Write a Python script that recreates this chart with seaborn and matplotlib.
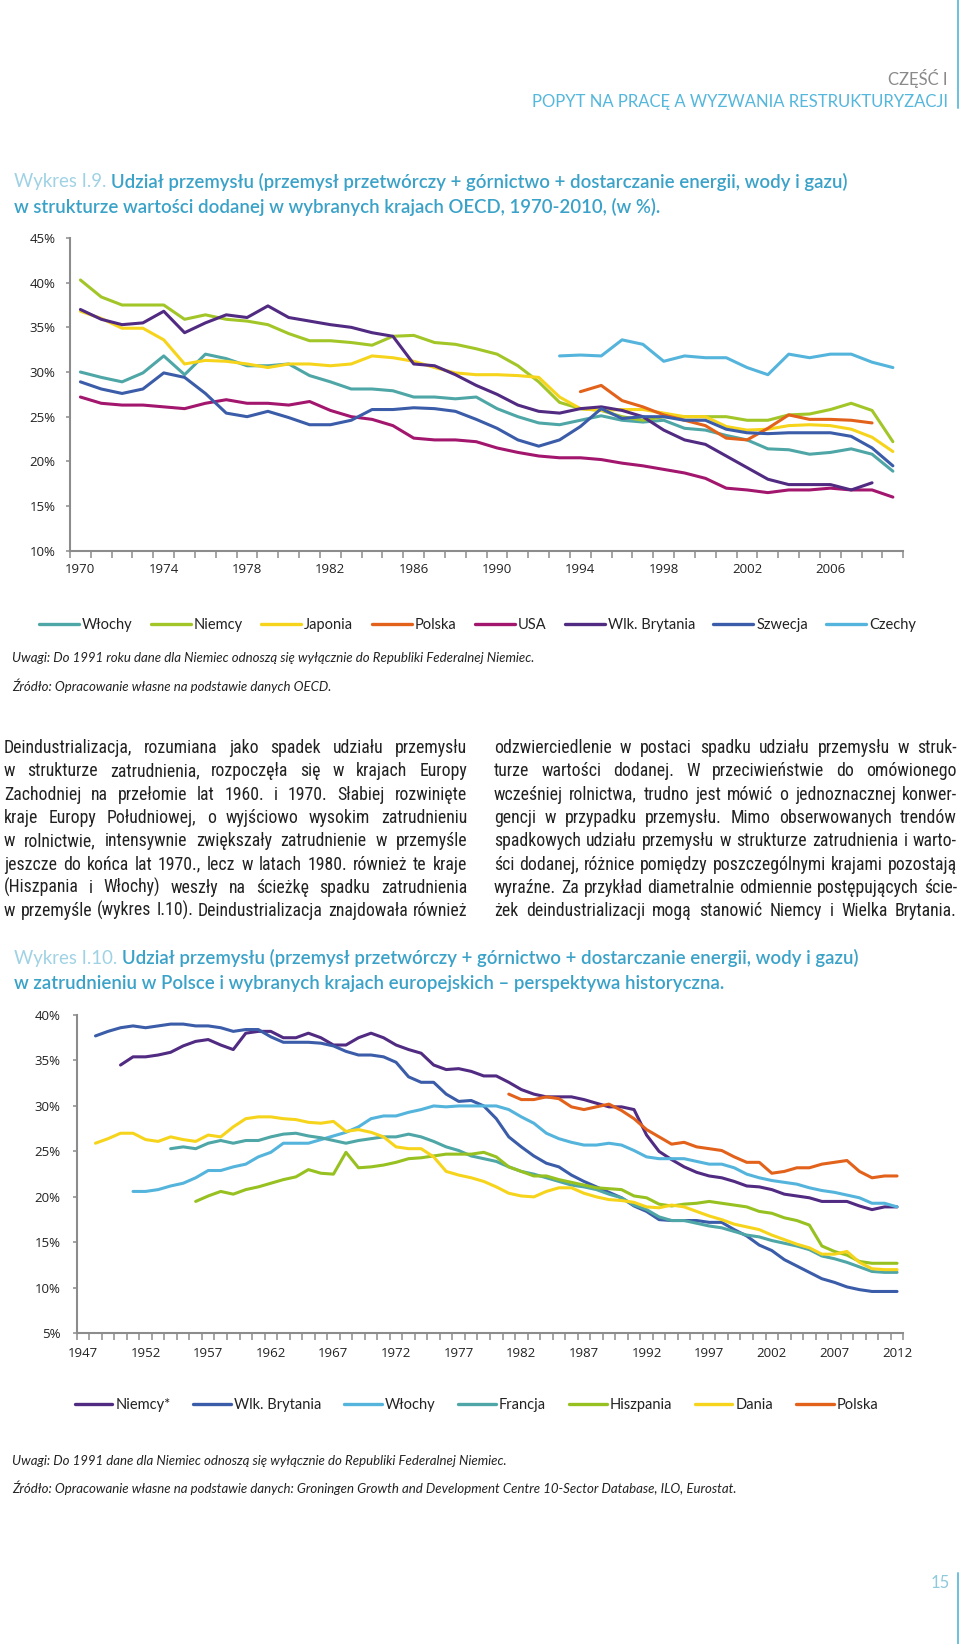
import numpy as np
import pandas as pd
import matplotlib
matplotlib.use("Agg")
import matplotlib.pyplot as plt
import seaborn as sns
from matplotlib import font_manager as fm
from matplotlib.ticker import FixedLocator, FuncFormatter
from matplotlib.lines import Line2D

# ---------------- data: chart I.9 (value added share, %) ----------------
years_vad = list(range(1970, 2010))
countries_vad = ["Włochy", "Niemcy", "Japonia", "Polska", "USA", "Wlk. Brytania", "Szwecja", "Czechy"]

wlochy_vad_start = 1970
wlochy_vad = [30.0, 29.4, 28.9, 29.9, 31.8, 29.7, 32.0, 31.5, 30.7, 30.7,
              30.9, 29.6, 28.9, 28.1, 28.1, 27.9, 27.2, 27.2, 27.0, 27.2,
              25.9, 25.0, 24.3, 24.1, 24.6, 25.1, 24.6, 24.4, 24.6, 23.7,
              23.5, 22.9, 22.4, 21.4, 21.3, 20.8, 21.0, 21.4, 20.8, 18.9]
niemcy_vad_start = 1970
niemcy_vad = [40.3, 38.4, 37.5, 37.5, 37.5, 35.9, 36.4, 35.9, 35.7, 35.3,
              34.3, 33.5, 33.5, 33.3, 33.0, 34.0, 34.1, 33.3, 33.1, 32.6,
              32.0, 30.7, 28.9, 26.6, 25.9, 25.7, 25.0, 24.6, 25.0, 25.0,
              25.0, 25.0, 24.6, 24.6, 25.2, 25.3, 25.8, 26.5, 25.7, 22.2]
japonia_vad_start = 1970
japonia_vad = [36.8, 36.0, 34.9, 34.9, 33.6, 30.9, 31.3, 31.2, 30.9, 30.5,
               30.9, 30.9, 30.7, 30.9, 31.8, 31.6, 31.2, 30.5, 29.9, 29.7,
               29.7, 29.6, 29.4, 27.2, 25.9, 25.7, 25.8, 25.8, 25.4, 25.0,
               25.0, 23.9, 23.5, 23.6, 24.0, 24.1, 24.0, 23.6, 22.7, 21.1]
polska_vad_start = 1994
polska_vad = [27.8, 28.5, 26.8, 26.1, 25.2, 24.6, 24.0, 22.6, 22.4, 23.7,
              25.2, 24.7, 24.7, 24.6, 24.3]
usa_vad_start = 1970
usa_vad = [27.2, 26.5, 26.3, 26.3, 26.1, 25.9, 26.5, 26.9, 26.5, 26.5,
           26.3, 26.7, 25.7, 25.0, 24.7, 24.0, 22.6, 22.4, 22.4, 22.2,
           21.5, 21.0, 20.6, 20.4, 20.4, 20.2, 19.8, 19.5, 19.1, 18.7,
           18.1, 17.0, 16.8, 16.5, 16.8, 16.8, 17.0, 16.8, 16.8, 16.0]
wb_vad_start = 1970
wb_vad = [37.0, 35.9, 35.3, 35.5, 36.8, 34.4, 35.5, 36.4, 36.1, 37.4,
          36.1, 35.7, 35.3, 35.0, 34.4, 34.0, 30.9, 30.7, 29.7, 28.5,
          27.5, 26.3, 25.6, 25.4, 25.9, 26.1, 25.7, 25.0, 23.5, 22.4,
          21.9, 20.6, 19.3, 18.0, 17.4, 17.4, 17.4, 16.8, 17.6]
szwecja_vad_start = 1970
szwecja_vad = [28.9, 28.1, 27.6, 28.1, 29.9, 29.4, 27.6, 25.4, 25.0, 25.6,
               24.9, 24.1, 24.1, 24.6, 25.8, 25.8, 26.0, 25.9, 25.6, 24.7,
               23.7, 22.4, 21.7, 22.4, 23.9, 25.9, 24.8, 25.0, 25.0, 24.6,
               24.6, 23.6, 23.2, 23.1, 23.2, 23.2, 23.2, 22.8, 21.5, 19.5]
czechy_vad_start = 1993
czechy_vad = [31.8, 31.9, 31.8, 33.6, 33.1, 31.2, 31.8, 31.6, 31.6, 30.5,
              29.7, 32.0, 31.6, 32.0, 32.0, 31.1, 30.5]

# ---------------- data: chart I.10 (employment share, %) ----------------
years_emp = list(range(1947, 2013))
countries_emp = ["Niemcy*", "Wlk. Brytania", "Włochy", "Francja", "Hiszpania", "Dania", "Polska"]

niemcy_emp_start = 1950
niemcy_emp = [34.5, 35.4, 35.4, 35.6, 35.9, 36.6, 37.1, 37.3, 36.7, 36.2,
              38.0, 38.2, 38.2, 37.5, 37.5, 38.0, 37.5, 36.7, 36.7, 37.5,
              38.0, 37.5, 36.7, 36.2, 35.8, 34.5, 34.0, 34.1, 33.8, 33.3,
              33.3, 32.6, 31.8, 31.3, 31.0, 31.0, 31.0, 30.7, 30.3, 29.9,
              29.9, 29.6, 26.8, 25.0, 24.1, 23.3, 22.7, 22.3, 22.1, 21.7,
              21.2, 21.1, 20.8, 20.3, 20.1, 19.9, 19.5, 19.5, 19.5, 19.0,
              18.6, 18.9, 18.9]
wb_emp_start = 1948
wb_emp = [37.7, 38.2,
          38.6, 38.8, 38.6, 38.8, 39.0, 39.0, 38.8, 38.8, 38.6, 38.2,
          38.4, 38.4, 37.6, 37.0, 37.0, 37.0, 36.9, 36.6, 36.0, 35.6,
          35.6, 35.4, 34.8, 33.2, 32.6, 32.6, 31.3, 30.5, 30.6, 30.0,
          28.6, 26.6, 25.5, 24.5, 23.7, 23.3, 22.4, 21.7, 21.1, 20.5,
          19.9, 19.0, 18.4, 17.5, 17.4, 17.4, 17.4, 17.2, 17.2, 16.4,
          15.7, 14.7, 14.1, 13.1, 12.4, 11.7, 11.0, 10.6, 10.1, 9.8,
          9.6, 9.6, 9.6]
wlochy_emp_start = 1951
wlochy_emp = [20.6, 20.6, 20.8, 21.2, 21.5, 22.1, 22.9, 22.9, 23.3,
              23.6, 24.4, 24.9, 25.9, 25.9, 25.9, 26.3, 26.7, 27.1, 27.7,
              28.6, 28.9, 28.9, 29.3, 29.6, 30.0, 29.9, 30.0, 30.0, 30.0,
              30.0, 29.6, 28.8, 28.1, 27.0, 26.4, 26.0, 25.7, 25.7, 25.9,
              25.7, 25.1, 24.4, 24.2, 24.2, 24.2, 23.9, 23.6, 23.6, 23.2,
              22.5, 22.1, 21.8, 21.6, 21.4, 21.0, 20.7, 20.5, 20.2, 19.9,
              19.3, 19.3, 18.9]
francja_emp_start = 1954
francja_emp = [25.3, 25.5, 25.3, 25.9, 26.2, 25.9,
               26.2, 26.2, 26.6, 26.9, 27.0, 26.7, 26.5, 26.2, 25.9, 26.2,
               26.4, 26.6, 26.6, 26.9, 26.6, 26.1, 25.5, 25.1, 24.5, 24.2,
               23.9, 23.3, 22.8, 22.5, 22.1, 21.7, 21.3, 21.1, 20.8, 20.3,
               19.9, 19.1, 18.6, 17.8, 17.4, 17.4, 17.1, 16.8, 16.6, 16.2,
               15.8, 15.6, 15.2, 14.9, 14.6, 14.2, 13.5, 13.2, 12.8, 12.3,
               11.8, 11.7, 11.7]
hiszpania_emp_start = 1956
hiszpania_emp = [19.5, 20.1, 20.6, 20.3,
                 20.8, 21.1, 21.5, 21.9, 22.2, 23.0, 22.6, 22.5, 24.9, 23.2,
                 23.3, 23.5, 23.8, 24.2, 24.3, 24.5, 24.7, 24.7, 24.7, 24.9,
                 24.4, 23.3, 22.8, 22.3, 22.3, 21.9, 21.6, 21.3, 21.0, 20.9,
                 20.8, 20.1, 19.9, 19.2, 19.0, 19.2, 19.3, 19.5, 19.3, 19.1,
                 18.9, 18.4, 18.2, 17.7, 17.4, 16.9, 14.6, 14.0, 13.6, 12.9,
                 12.7, 12.7, 12.7]
dania_emp_start = 1948
dania_emp = [25.9, 26.4,
             27.0, 27.0, 26.3, 26.1, 26.6, 26.3, 26.1, 26.8, 26.6, 27.7,
             28.6, 28.8, 28.8, 28.6, 28.5, 28.2, 28.1, 28.3, 27.2, 27.4,
             27.1, 26.6, 25.5, 25.3, 25.3, 24.4, 22.8, 22.4, 22.1, 21.7,
             21.1, 20.4, 20.1, 20.0, 20.6, 21.0, 21.0, 20.4, 20.0, 19.7,
             19.6, 19.4, 18.9, 18.8, 19.1, 18.9, 18.4, 17.9, 17.5, 17.0,
             16.7, 16.4, 15.8, 15.3, 14.8, 14.4, 13.7, 13.7, 14.0, 12.8,
             12.1, 12.0, 12.0]
polska_emp_start = 1981
polska_emp = [31.3, 30.7, 30.7, 31.0, 30.8, 29.9, 29.6, 29.9, 30.2,
              29.5, 28.6, 27.4, 26.6, 25.8, 26.0, 25.5, 25.3, 25.1, 24.4,
              23.8, 23.8, 22.6, 22.8, 23.2, 23.2, 23.6, 23.8, 24.0, 22.8,
              22.1, 22.3, 22.3]

yticks_vad = [10, 15, 20, 25, 30, 35, 40, 45]
yticks_emp = [5, 10, 15, 20, 25, 30, 35, 40]
xlabels_vad = [1970, 1974, 1978, 1982, 1986, 1990, 1994, 1998, 2002, 2006]
xlabels_emp = [1947, 1952, 1957, 1962, 1967, 1972, 1977, 1982, 1987, 1992, 1997, 2002, 2007, 2012]

# ---------------- texts ----------------
header_1 = "CZĘŚĆ I"
header_2 = "POPYT NA PRACĘ A WYZWANIA RESTRUKTURYZACJI"
title1_a = "Wykres I.9."
title1_b = "Udział przemysłu (przemysł przetwórczy + górnictwo + dostarczanie energii, wody i gazu)"
title1_c = "w strukturze wartości dodanej w wybranych krajach OECD, 1970-2010, (w %)."
note1 = "Uwagi: Do 1991 roku dane dla Niemiec odnoszą się wyłącznie do Republiki Federalnej Niemiec."
src1 = "Źródło: Opracowanie własne na podstawie danych OECD."
body_col1 = [
    "Deindustrializacja, rozumiana jako spadek udziału przemysłu",
    "w strukturze zatrudnienia, rozpoczęła się w krajach Europy",
    "Zachodniej na przełomie lat 1960. i 1970. Słabiej rozwinięte",
    "kraje Europy Południowej, o wyjściowo wysokim zatrudnieniu",
    "w rolnictwie, intensywnie zwiększały zatrudnienie w przemyśle",
    "jeszcze do końca lat 1970., lecz w latach 1980. również te kraje",
    "(Hiszpania i Włochy) weszły na ścieżkę spadku zatrudnienia",
    "w przemyśle (wykres I.10). Deindustrializacja znajdowała również",
]
body_col2 = [
    "odzwierciedlenie w postaci spadku udziału przemysłu w struk-",
    "turze wartości dodanej. W przeciwieństwie do omówionego",
    "wcześniej rolnictwa, trudno jest mówić o jednoznacznej konwer-",
    "gencji w przypadku przemysłu. Mimo obserwowanych trendów",
    "spadkowych udziału przemysłu w strukturze zatrudnienia i warto-",
    "ści dodanej, różnice pomiędzy poszczególnymi krajami pozostają",
    "wyraźne. Za przykład diametralnie odmiennie postępujących ście-",
    "żek deindustrializacji mogą stanowić Niemcy i Wielka Brytania.",
]
title2_a = "Wykres I.10."
title2_b = "Udział przemysłu (przemysł przetwórczy + górnictwo + dostarczanie energii, wody i gazu)"
title2_c = "w zatrudnieniu w Polsce i wybranych krajach europejskich – perspektywa historyczna."
note2 = "Uwagi: Do 1991 dane dla Niemiec odnoszą się wyłącznie do Republiki Federalnej Niemiec."
src2 = "Źródło: Opracowanie własne na podstawie danych: Groningen Growth and Development Centre 10-Sector Database, ILO, Eurostat."
page_no = "15"

# ---------------- style ----------------
sns.set_theme(style="white")
avail = {f.name for f in fm.fontManager.ttflist}
BASE = "Lato" if "Lato" in avail else "DejaVu Sans"
TICKF = "Open Sans" if "Open Sans" in avail else BASE
BODYF = next((f for f in ["Roboto Condensed", "Liberation Sans Narrow", "Open Sans Condensed"] if f in avail), BASE)
plt.rcParams["font.family"] = [BASE, "DejaVu Sans"]
BODY_PROPS = fm.FontProperties(family=BODYF, style="normal", weight="normal", stretch="normal")

TEAL, LIME, YELLOW, ORANGE = "#4fa6a6", "#a2c628", "#f6d41c", "#e2621b"
MAGENTA, PURPLE, BLUE, LBLUE = "#a3166e", "#512a82", "#3b5ca8", "#54b4dc"
AXC = "#8c8c8c"
TXT = "#222222"
T_LIGHT, T_BLUE = "#9fd2e4", "#3aa2c8"

pal_vad = dict(zip(countries_vad, [TEAL, LIME, YELLOW, ORANGE, MAGENTA, PURPLE, BLUE, LBLUE]))
pal_emp = dict(zip(countries_emp, [PURPLE, BLUE, LBLUE, TEAL, "#97c120", YELLOW, ORANGE]))


def long_df(series):
    rows = []
    for name, start, vals in series:
        for k, v in enumerate(vals):
            rows.append((start + k, v, name))
    return pd.DataFrame(rows, columns=["rok", "udzial", "kraj"])


df_vad = long_df([
    ("Włochy", wlochy_vad_start, wlochy_vad), ("Niemcy", niemcy_vad_start, niemcy_vad),
    ("Japonia", japonia_vad_start, japonia_vad), ("Polska", polska_vad_start, polska_vad),
    ("USA", usa_vad_start, usa_vad), ("Wlk. Brytania", wb_vad_start, wb_vad),
    ("Szwecja", szwecja_vad_start, szwecja_vad), ("Czechy", czechy_vad_start, czechy_vad)])
df_emp = long_df([
    ("Niemcy*", niemcy_emp_start, niemcy_emp), ("Wlk. Brytania", wb_emp_start, wb_emp),
    ("Włochy", wlochy_emp_start, wlochy_emp), ("Francja", francja_emp_start, francja_emp),
    ("Hiszpania", hiszpania_emp_start, hiszpania_emp), ("Dania", dania_emp_start, dania_emp),
    ("Polska", polska_emp_start, polska_emp)])

W, H = 960, 1644
fig = plt.figure(figsize=(W / 100, H / 100), dpi=100)
fig.patch.set_facecolor("white")


def fx(x):
    return x / W


def fy(y):
    return 1 - y / H


def style_axes(ax, years, xlabels, yticks, ypad, xpad):
    ax.set_xlim(years[0] - 0.5, years[-1] + 0.5)
    ax.set_ylim(yticks[0], yticks[-1])
    ax.set_xticks(xlabels)
    ax.set_xticklabels([str(v) for v in xlabels])
    ax.xaxis.set_minor_locator(FixedLocator(np.arange(years[0] - 0.5, years[-1] + 1, 1.0)))
    ax.set_yticks(yticks)
    ax.yaxis.set_major_formatter(FuncFormatter(lambda v, p: f"{int(v)}%"))
    ax.tick_params(axis="x", which="major", bottom=True, length=0, pad=xpad,
                   labelsize=9.5, labelcolor=TXT, labelfontfamily=TICKF)
    ax.tick_params(axis="x", which="minor", bottom=True, length=5, width=1.1, color=AXC, direction="out")
    ax.tick_params(axis="y", which="major", left=True, length=3, width=1.1, color=AXC, direction="out",
                   pad=ypad, labelsize=9.5, labelcolor=TXT, labelfontfamily=TICKF)
    for s in ["top", "right"]:
        ax.spines[s].set_visible(False)
    for s in ["left", "bottom"]:
        ax.spines[s].set_color(AXC)
        ax.spines[s].set_linewidth(1.5)
    ax.set_xlabel("")
    ax.set_ylabel("")
    ax.set_facecolor("white")


# ---------------- chart I.9 ----------------
ax1 = fig.add_axes([fx(70), fy(550.7), (903.3 - 70) / W, (550.7 - 238) / H])
sns.lineplot(data=df_vad, x="rok", y="udzial", hue="kraj", hue_order=countries_vad,
             palette=pal_vad, linewidth=2.2, estimator=None, ax=ax1)
style_axes(ax1, years_vad, xlabels_vad, yticks_vad, ypad=7.4, xpad=9)
sns.move_legend(ax1, "center left", bbox_to_anchor=(fx(39), fy(625)), bbox_transform=fig.transFigure,
                ncol=8, frameon=False, title=None, fontsize=10.5, handlelength=2.75,
                handletextpad=0.2, columnspacing=1.25, borderpad=0, borderaxespad=0)
for t in ax1.get_legend().get_texts():
    t.set_color(TXT)
for l in ax1.get_legend().get_lines():
    l.set_linewidth(2.4)

# ---------------- chart I.10 ----------------
ax2 = fig.add_axes([fx(76.7), fy(1333.3), (903.3 - 76.7) / W, (1333.3 - 1015) / H])
sns.lineplot(data=df_emp, x="rok", y="udzial", hue="kraj", hue_order=countries_emp,
             palette=pal_emp, linewidth=2.2, estimator=None, ax=ax2)
style_axes(ax2, years_emp, xlabels_emp, yticks_emp, ypad=8.6, xpad=10.2)
sns.move_legend(ax2, "center left", bbox_to_anchor=(fx(74.5), fy(1405)), bbox_transform=fig.transFigure,
                ncol=7, frameon=False, title=None, fontsize=10.5, handlelength=2.6,
                handletextpad=0.2, columnspacing=1.55, borderpad=0, borderaxespad=0)
for t in ax2.get_legend().get_texts():
    t.set_color(TXT)
for l in ax2.get_legend().get_lines():
    l.set_linewidth(2.4)

# ---------------- page texts ----------------
r = fig.canvas.get_renderer()
PX = 100 / 72.0

fig.text(fx(948), fy(78), header_1, ha="right", va="center", fontsize=12, color="#8a8a8a")
fig.text(fx(948), fy(102), header_2, ha="right", va="center", fontsize=12, color="#55b7dc")
fig.add_artist(Line2D([fx(958), fx(958)], [fy(0), fy(108)], transform=fig.transFigure, color="#6cc0de", lw=1.4))
fig.add_artist(Line2D([fx(958), fx(958)], [fy(1573), fy(1644)], transform=fig.transFigure, color="#6cc0de", lw=1.4))
fig.text(fx(950), fy(1583), page_no, ha="right", va="center", fontsize=12, color="#8fc9dc")

TFS = 13.4


def two_tone(x, y, a, b, fs=TFS):
    t1 = fig.text(fx(x), fy(y), a, ha="left", va="center", fontsize=fs, color=T_LIGHT)
    w = t1.get_window_extent(r).width
    fig.text(fx(x + w + 0.25 * fs * PX), fy(y), b, ha="left", va="center", fontsize=fs,
             color=T_BLUE, fontweight="semibold")


two_tone(14, 182, title1_a, title1_b)
fig.text(fx(14), fy(207), title1_c, ha="left", va="center", fontsize=TFS, color=T_BLUE, fontweight="semibold")
two_tone(14, 958, title2_a, title2_b)
fig.text(fx(14), fy(983), title2_c, ha="left", va="center", fontsize=TFS, color=T_BLUE, fontweight="semibold")

for (txt, y) in [(note1, 658), (src1, 686), (note2, 1461), (src2, 1488)]:
    fig.text(fx(12), fy(y), txt, ha="left", va="center", fontsize=9.5, style="italic", color=TXT)


def body_text(x, y, s, fs):
    p = BODY_PROPS.copy()
    p.set_size(fs)
    return fig.text(x, y, s, ha="left", va="baseline", color=TXT, fontproperties=p)


def measure(s, fs):
    t = body_text(0, 0.5, s, fs)
    w = t.get_window_extent(r).width
    t.remove()
    return w


def fit_size(lines, width, fs0=14.0, mingap=0.24):
    best = fs0
    for ln in lines:
        words = ln.split(" ")
        s = sum(measure(w, fs0) for w in words) + (len(words) - 1) * mingap * fs0 * PX
        best = min(best, fs0 * width / s)
    return best


def justified(lines, x0, x1, y0, dy, fs):
    for k, ln in enumerate(lines):
        # baseline placed so that the cap-height centre sits on the line centre
        y = fy(y0 + k * dy + 0.36 * fs * PX)
        words = ln.split(" ")
        ts = [body_text(0, y, w, fs) for w in words]
        ws = [t.get_window_extent(r).width for t in ts]
        gap = (x1 - x0 - sum(ws)) / max(len(ws) - 1, 1)
        x = x0
        for t, w in zip(ts, ws):
            t.set_x(fx(x))
            x += w + gap


fs_body = min(fit_size(body_col1, 467 - 4), fit_size(body_col2, 957 - 494))
justified(body_col1, 4, 467, 746.7, 23.3, fs_body)
justified(body_col2, 494, 957, 746.7, 23.3, fs_body)

fig.savefig("out.png", dpi=100, facecolor="white")
